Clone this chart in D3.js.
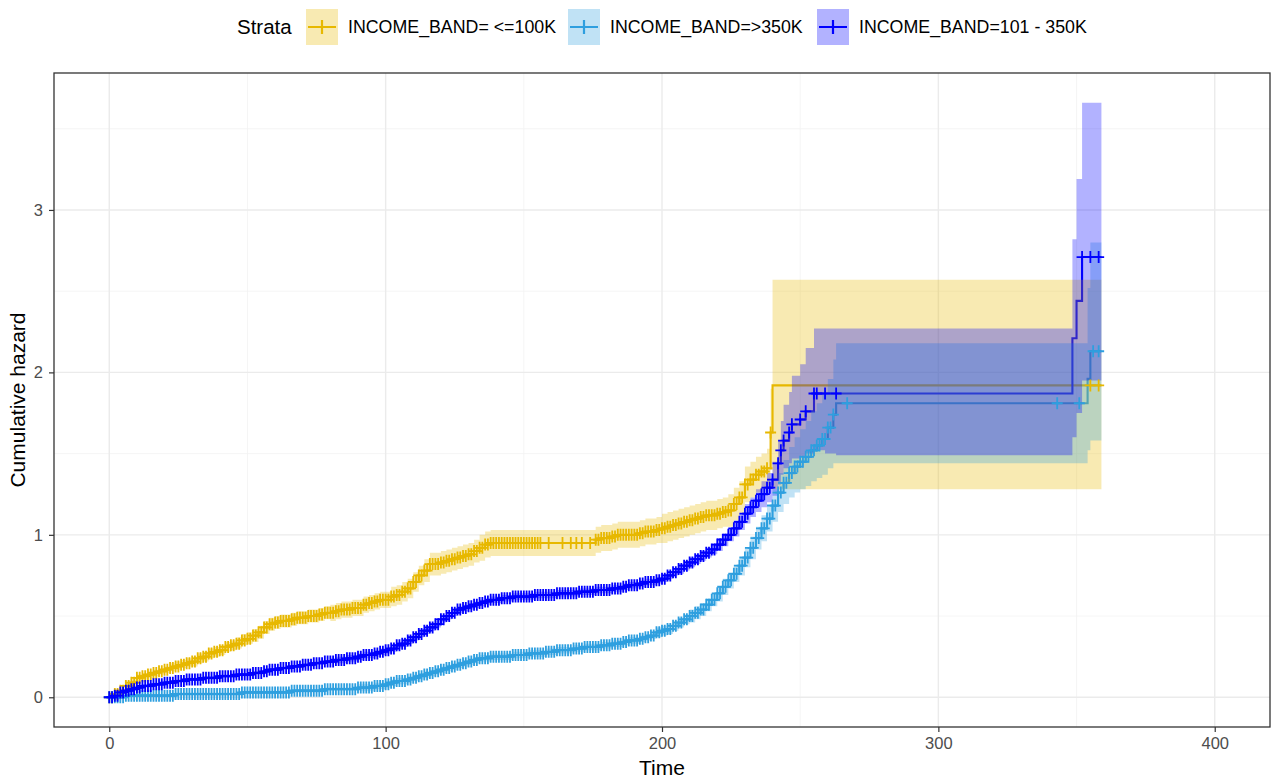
<!DOCTYPE html>
<html>
<head>
<meta charset="utf-8">
<script src="https://cdn.jsdelivr.net/npm/d3@7"></script>
<style>
  body { margin: 0; background: #ffffff; }
  text { font-family: "Liberation Sans", Arial, sans-serif; }
</style>
</head>
<body>
<svg id="chart" width="1271" height="780"></svg>
<script>
// Strata, colours and axis ticks
const strataLabels = ["INCOME_BAND= <=100K", "INCOME_BAND=>350K", "INCOME_BAND=101 - 350K"];
const strataColors = ["#E7B800", "#2E9FDF", "#0000FF"];
const xTicks = [0, 100, 200, 300, 400];
const yTicks = [0, 1, 2, 3];
const xMinor = [50, 150, 250, 350];
const yMinor = [0.5, 1.5, 2.5, 3.5];

// INCOME_BAND <=100K : step times, cumulative hazard, confidence limits
const lowTime = [0,2,4,6,8,10,12,14,16,18,20,22,24,26,28,30,32,34,36,38,40,42,44,46,48,50,52,54,56,58,60,62,64,66,68,70,72,74,76,78,80,82,84,86,88,90,92,94,96,98,100,102,104,106,108,110,112,114,116,118,120,122,124,126,128,130,132,134,136,138,140,142,144,146,148,150,152,154,156,159,164,167,169,171,174,176,178,180,182,184,186,188,190,192,194,196,198,200,202,204,206,208,210,212,214,216,218,220,222,224,226,228,230,232,234,236,238,239.3,240,355,358,359];
const lowHazard = [0,.02,.04,.07,.09,.12,.13,.14,.15,.16, .17,.18,.19,.20,.21,.22,.24,.25,.27,.28, .29,.31,.32,.33,.35,.36,.38,.40,.43,.45, .46,.47,.47,.48,.49,.49,.50,.50,.51,.52, .52,.53,.54,.54,.55,.55,.57,.58,.59,.60, .60,.62,.63,.65,.67,.71,.75,.78,.82,.82, .83,.84,.85,.86,.87,.88,.90,.92,.94,.95,
  .95,.95,.95,.95,.95,.95,.95,.95,.95, .95,.95,.95,.95,.95,.95,
  .97,.98,.98,.99,1.00,1.00,1.00,1.00,1.01,1.02, 1.02,1.03,1.04,1.05,1.06,1.07,1.08,1.09,1.10,1.11, 1.12,1.12,1.13,1.14,1.15,1.19,1.23,1.31,1.34,1.37, 1.39,1.41,
  1.63,1.92,1.92,1.92,1.92];
const lowLower = [0,.01,.03,.05,.07,.10,.11,.12,.13,.14, .15,.16,.17,.18,.19,.19,.21,.22,.24,.25, .26,.28,.29,.30,.32,.33,.34,.36,.39,.41, .42,.43,.43,.44,.45,.45,.46,.46,.47,.48, .47,.48,.49,.49,.50,.50,.52,.53,.54,.55, .55,.56,.57,.59,.61,.65,.69,.71,.75,.75, .76,.77,.78,.79,.80,.81,.83,.84,.86,.87,
  .87,.87,.87,.87,.87,.87,.87,.87,.87, .87,.87,.87,.87,.87,.87,
  .89,.90,.90,.91,.92,.92,.92,.92,.93,.94, .94,.95,.95,.96,.97,.98,.99,1.00,1.01,1.02, 1.03,1.03,1.04,1.05,1.05,1.09,1.13,1.20,1.23,1.26, 1.28,1.29,
  1.40,1.28,1.28,1.28,1.28];
const lowUpper = [0,.03,.05,.09,.11,.14,.15,.16,.17,.18, .19,.21,.22,.23,.24,.25,.27,.28,.30,.31, .32,.34,.35,.37,.39,.40,.42,.44,.47,.49, .50,.51,.51,.52,.53,.53,.54,.54,.55,.56, .57,.58,.59,.59,.60,.60,.62,.63,.64,.65, .65,.68,.69,.71,.73,.77,.81,.85,.89,.89, .90,.91,.92,.93,.94,.95,.97,1.00,1.02,1.03,
  1.03,1.03,1.03,1.03,1.03,1.03,1.03,1.03,1.03, 1.03,1.03,1.03,1.03,1.03,1.03,
  1.05,1.06,1.06,1.07,1.08,1.08,1.08,1.08,1.09,1.10, 1.10,1.11,1.13,1.14,1.15,1.16,1.17,1.18,1.19,1.20, 1.21,1.21,1.22,1.23,1.25,1.29,1.33,1.42,1.45,1.48, 1.50,1.53,
  1.90,2.57,2.57,2.57,2.57];
const lowUncensored = [240, 359];
// further censoring days between the event times
const lowCensorDays = [1,3,5,7,9,11,13,15,17,19,21,23,25,27,29,31,33,35,37,39,41,43,45,47,49,51,53,55,57,59,61,63,65,67,69,71,73,75,77,79,81,83,85,87,89,91,93,95,97,99,101,103,105,107,109,111,113,115,117,119,121,123,125,127,129,131,133,135,137,139,141,143,145,147,149,151,153,155,177,179,181,183,185,187,189,191,193,195,197,199,201,203,205,207,209,211,213,215,217,219,221,223,225,227,229,231,233,235,237];

// INCOME_BAND >350K
const highTime = [0,2,4,6,8,10,12,14,16,18,20,22,24,26,28,30,32,34,36,38,40,42,44,46,48,50,52,54,56,58,60,62,64,66,68,70,72,74,76,78,80,82,84,86,88,90,92,94,96,98,100,102,104,106,108,110,112,114,116,118,120,122,124,126,128,130,132,134,136,138,140,142,144,146,148,150,152,154,156,158,160,162,164,166,168,170,172,174,176,178,180,182,184,186,188,190,192,194,196,198,200,202,204,206,208,210,212,214,216,218,220,222,224,226,228,230,232,234,236,238,240,242,244,246,248,250,252,254,256,258,260,262,263,267,343,351,354,355,356,358,359];
const highHazard = [0,0,0,.01,.01,.01,.01,.01,.01,.01, .01,.01,.02,.02,.02,.02,.02,.02,.02,.02, .02,.02,.02,.02,.03,.03,.03,.03,.03,.03, .03,.03,.03,.04,.04,.04,.04,.04,.04,.05, .05,.05,.05,.05,.05,.06,.06,.06,.07,.07, .08,.09,.10,.10,.11,.12,.13,.14,.15,.16, .17,.18,.19,.20,.21,.22,.23,.24,.24,.25, .25,.25,.25,.26,.26,.26,.27,.27,.27,.28, .28,.29,.29,.29,.30,.30,.31,.31,.31,.32, .32,.33,.33,.34,.35,.35,.36,.37,.38,.40, .41,.42,.44,.46,.48,.50,.52,.54,.57,.60, .64,.68,.72,.76,.81,.86,.92,.98,1.04,1.10, 1.18,1.26,1.32,1.38,1.42,1.45,1.48,1.52,1.55,1.59, 1.66,1.74,
  1.81,1.81,1.81,1.81,1.96,2.13,2.13,2.13,2.13];
const highLower = [0,0,0,0,0,0,0,0,0,0, 0,0,.01,.01,.01,.01,.01,.01,.01,.01, .01,.01,.01,.01,.02,.02,.02,.02,.02,.02, .02,.02,.02,.03,.03,.03,.03,.03,.03,.04, .04,.04,.04,.04,.04,.04,.04,.04,.05,.05, .06,.07,.08,.08,.09,.10,.11,.12,.13,.14, .15,.16,.17,.18,.19,.20,.21,.22,.22,.23, .23,.23,.23,.24,.24,.24,.25,.25,.25,.26, .26,.27,.27,.27,.28,.28,.29,.29,.29,.30, .30,.31,.31,.32,.33,.33,.34,.35,.36,.37, .38,.39,.41,.43,.45,.46,.48,.50,.53,.56, .59,.63,.67,.71,.75,.80,.85,.91,.96,1.02, 1.08,1.14,1.19,1.23,1.26,1.28,1.30,1.33,1.35,1.37, 1.41,1.44,
  1.44,1.44,1.44,1.44,1.52,1.58,1.58,1.58,1.58];
const highUpper = [0,.01,.01,.02,.02,.02,.02,.02,.02,.02, .02,.02,.03,.03,.03,.03,.03,.03,.03,.03, .03,.03,.03,.03,.04,.04,.04,.04,.04,.04, .04,.04,.04,.05,.05,.05,.05,.05,.05,.06, .06,.06,.06,.06,.06,.08,.08,.08,.09,.09, .10,.11,.12,.12,.13,.14,.15,.16,.17,.18, .19,.20,.21,.22,.23,.24,.25,.26,.26,.27, .27,.27,.27,.28,.28,.28,.29,.29,.29,.30, .30,.31,.31,.31,.32,.32,.33,.33,.33,.34, .34,.35,.35,.36,.37,.37,.38,.39,.40,.43, .44,.45,.47,.49,.51,.54,.56,.58,.61,.64, .69,.73,.77,.81,.87,.92,.99,1.05,1.12,1.19, 1.28,1.38,1.46,1.54,1.60,1.65,1.70,1.76,1.81,1.87, 1.96,2.08,
  2.18,2.18,2.18,2.18,2.52,2.80,2.80,2.80,2.80];
const highUncensored = [263, 354, 355, 359];
const highCensorDays = [1,3,5,7,9,11,13,15,17,19,21,23,25,27,29,31,33,35,37,39,41,43,45,47,49,51,53,55,57,59,61,63,65,67,69,71,73,75,77,79,81,83,85,87,89,91,93,95,97,99,101,103,105,107,109,111,113,115,117,119,121,123,125,127,129,131,133,135,137,139,141,143,145,147,149,151,153,155,157,159,161,163,165,167,169,171,173,175,177,179,181,183,185,187,189,191,193,195,197,199,201,203,205,207,209,211,213,215,217,219,221,223,225,227,229,231,233,235,237,239,241,243,245,247,249,251,253,255,257,259,261];

// INCOME_BAND 101 - 350K
const midTime = [0,2,4,6,8,10,12,14,16,18,20,22,24,26,28,30,32,34,36,38,40,42,44,46,48,50,52,54,56,58,60,62,64,66,68,70,72,74,76,78,80,82,84,86,88,90,92,94,96,98,100,102,104,106,108,110,112,114,116,118,120,122,124,126,128,130,132,134,136,138,140,142,144,146,148,150,152,154,156,158,160,162,164,166,168,170,172,174,176,178,180,182,184,186,188,190,192,194,196,198,200,202,204,206,208,210,212,214,216,218,220,222,224,226,228,230,232,234,236,238,240,242,243,244,246,247,250,252,255,256,259,263,348.5,350,352,355,358,359];
const midHazard = [0,.01,.03,.04,.05,.06,.07,.07,.08,.08, .09,.09,.10,.10,.11,.11,.11,.12,.12,.12, .13,.13,.13,.14,.14,.14,.15,.15,.16,.17, .17,.18,.18,.19,.19,.20,.20,.21,.21,.22, .22,.23,.23,.24,.24,.25,.26,.26,.27,.28, .29,.30,.32,.33,.35,.37,.39,.41,.43,.45, .48,.50,.52,.54,.55,.56,.57,.58,.59,.60, .60,.61,.61,.62,.62,.62,.62,.63,.63,.63, .63,.64,.64,.64,.64,.65,.65,.65,.66,.66, .66,.67,.67,.68,.69,.69,.70,.71,.71,.72, .73,.75,.77,.79,.81,.83,.85,.87,.89,.91, .94,.97,1.00,1.04,1.08,1.13,1.17,1.21,1.25,1.29, 1.34,
  1.44,1.52,1.58,1.63,1.68,1.71,1.76,1.87,1.87,1.87,1.87,2.21,2.44,2.71,2.71,2.71,2.71];
const midLower = [0,0,.02,.03,.04,.05,.06,.06,.07,.07, .08,.08,.09,.09,.10,.10,.10,.11,.11,.11, .12,.12,.12,.13,.13,.13,.14,.14,.15,.16, .16,.17,.17,.18,.18,.19,.19,.20,.20,.21, .21,.21,.21,.22,.22,.23,.24,.24,.25,.26, .27,.28,.30,.31,.33,.35,.37,.39,.41,.43, .46,.48,.50,.52,.53,.54,.55,.56,.57,.58, .58,.59,.59,.60,.60,.60,.60,.61,.61,.61, .61,.62,.62,.62,.62,.63,.63,.63,.64,.64, .64,.65,.65,.66,.67,.67,.68,.69,.69,.70, .71,.73,.75,.76,.78,.80,.82,.84,.86,.88, .90,.93,.96,.99,1.03,1.07,1.11,1.14,1.17,1.20, 1.24,
  1.31,1.37,1.41,1.44,1.47,1.48,1.50,1.52,1.52,1.50,1.49,1.60,1.75,1.95,1.95,1.95,1.95];
const midUpper = [0,.02,.04,.05,.06,.07,.08,.08,.09,.09, .10,.10,.11,.11,.12,.12,.12,.13,.13,.13, .14,.14,.14,.15,.15,.15,.16,.16,.17,.18, .18,.19,.19,.20,.20,.21,.21,.22,.22,.23, .24,.25,.25,.26,.26,.27,.28,.28,.29,.30, .31,.32,.34,.35,.37,.39,.41,.43,.45,.47, .50,.52,.54,.56,.57,.58,.59,.60,.61,.62, .62,.63,.63,.64,.64,.64,.64,.65,.65,.65, .65,.66,.66,.66,.66,.67,.67,.67,.68,.68, .68,.69,.69,.70,.71,.71,.72,.73,.73,.74, .75,.77,.79,.82,.84,.86,.88,.90,.92,.94, .98,1.01,1.04,1.09,1.13,1.19,1.23,1.28,1.33,1.38, 1.45,
  1.58,1.70,1.80,1.88,1.98,2.05,2.15,2.27,2.27,2.27,2.27,2.82,3.19,3.66,3.66,3.66,3.66];
const midUncensored = [348.5, 350, 359];
const midCensorDays = [1,3,5,7,9,11,13,15,17,19,21,23,25,27,29,31,33,35,37,39,41,43,45,47,49,51,53,55,57,59,61,63,65,67,69,71,73,75,77,79,81,83,85,87,89,91,93,95,97,99,101,103,105,107,109,111,113,115,117,119,121,123,125,127,129,131,133,135,137,139,141,143,145,147,149,151,153,155,157,159,161,163,165,167,169,171,173,175,177,179,181,183,185,187,189,191,193,195,197,199,201,203,205,207,209,211,213,215,217,219,221,223,225,227,229,231,233,235,237,239];

// ---- assemble strata ----
function build(time, haz, lo, hi, noMark, extraDays) {
  const rows = time.map((t, i) => ({ t, h: haz[i], lo: lo[i], hi: hi[i] }));
  const bis = d3.bisector(d => d.t).right;
  // censor marks sit on the step curve at their own times
  const marks = rows.filter(d => !noMark.includes(d.t)).map(d => ({ t: d.t, h: d.h }))
    .concat(extraDays.map(t => ({ t, h: rows[bis(rows, t) - 1].h })));
  return { rows, marks };
}
const series = [
  build(lowTime, lowHazard, lowLower, lowUpper, lowUncensored, lowCensorDays),
  build(highTime, highHazard, highLower, highUpper, highUncensored, highCensorDays),
  build(midTime, midHazard, midLower, midUpper, midUncensored, midCensorDays)
];

const W = 1271, H = 780;
const panel = { left: 54, right: 1270, top: 73, bottom: 727 };
const svg = d3.select("#chart");

const x = d3.scaleLinear().domain([-20, 420]).range([panel.left, panel.right]);
const y = d3.scaleLinear().domain([-0.183, 3.843]).range([panel.bottom, panel.top]);

svg.append("rect").attr("width", W).attr("height", H).attr("fill", "#ffffff");

// grid
const grid = svg.append("g");
grid.selectAll(".xm").data(xMinor).join("line")
  .attr("x1", d => x(d)).attr("x2", d => x(d)).attr("y1", panel.top).attr("y2", panel.bottom)
  .attr("stroke", "#F2F2F2").attr("stroke-width", 0.8);
grid.selectAll(".ym").data(yMinor).join("line")
  .attr("y1", d => y(d)).attr("y2", d => y(d)).attr("x1", panel.left).attr("x2", panel.right)
  .attr("stroke", "#F2F2F2").attr("stroke-width", 0.8);
grid.selectAll(".xg").data(xTicks).join("line")
  .attr("x1", d => x(d)).attr("x2", d => x(d)).attr("y1", panel.top).attr("y2", panel.bottom)
  .attr("stroke", "#EBEBEB").attr("stroke-width", 1.4);
grid.selectAll(".yg").data(yTicks).join("line")
  .attr("y1", d => y(d)).attr("y2", d => y(d)).attr("x1", panel.left).attr("x2", panel.right)
  .attr("stroke", "#EBEBEB").attr("stroke-width", 1.4);

svg.append("clipPath").attr("id", "clip").append("rect")
  .attr("x", panel.left).attr("y", panel.top)
  .attr("width", panel.right - panel.left).attr("height", panel.bottom - panel.top);
const plot = svg.append("g").attr("clip-path", "url(#clip)");

const line = d3.line().curve(d3.curveStepAfter).x(d => x(d.t)).y(d => y(d.h));
const band = d3.area().curve(d3.curveStepAfter).x(d => x(d.t)).y0(d => y(d.lo)).y1(d => y(d.hi));

// step curves
series.forEach((s, i) => {
  plot.append("path").datum(s.rows).attr("d", line)
    .attr("fill", "none").attr("stroke", strataColors[i]).attr("stroke-width", 2.1);
});
// confidence bands
series.forEach((s, i) => {
  plot.append("path").datum(s.rows).attr("d", band)
    .attr("fill", strataColors[i]).attr("fill-opacity", 0.3).attr("stroke", "none");
});
// censoring marks
const plus = "M-5.5,0H5.5M0,-6V6";
series.forEach((s, i) => {
  plot.append("g").selectAll("path").data(s.marks).join("path")
    .attr("transform", d => `translate(${x(d.t)},${y(d.h)})`)
    .attr("d", plus).attr("stroke", strataColors[i]).attr("stroke-width", 1.8).attr("fill", "none");
});

// panel border
svg.append("rect").attr("x", panel.left).attr("y", panel.top)
  .attr("width", panel.right - panel.left).attr("height", panel.bottom - panel.top)
  .attr("fill", "none").attr("stroke", "#333333").attr("stroke-width", 1.3);

// axes
const xAxis = svg.append("g").attr("transform", `translate(0,${panel.bottom})`)
  .call(d3.axisBottom(x).tickValues(xTicks).tickSize(5).tickPadding(5).tickFormat(d3.format("d")));
const yAxis = svg.append("g").attr("transform", `translate(${panel.left},0)`)
  .call(d3.axisLeft(y).tickValues(yTicks).tickSize(5).tickPadding(6).tickFormat(d3.format("d")));
[xAxis, yAxis].forEach(a => {
  a.attr("font-size", 16.5).attr("font-family", "Liberation Sans, Arial, sans-serif");
  a.select(".domain").remove();
  a.selectAll(".tick line").attr("stroke", "#333333").attr("stroke-width", 1.2);
  a.selectAll(".tick text").attr("fill", "#4D4D4D").style("font-size", "16.5px");
});

// axis titles
svg.append("text").attr("x", (panel.left + panel.right) / 2).attr("y", 775)
  .attr("text-anchor", "middle").attr("font-size", 21).attr("fill", "#000").text("Time");
svg.append("text").attr("transform", `translate(25,${(panel.top + panel.bottom) / 2}) rotate(-90)`)
  .attr("text-anchor", "middle").attr("font-size", 21).attr("fill", "#000").text("Cumulative hazard");

// legend
const legend = svg.append("g");
legend.append("text").attr("x", 237).attr("y", 27).attr("dy", "0.35em")
  .attr("font-size", 20.5).attr("fill", "#000").text("Strata");
const keyX = [306, 568, 817];
strataLabels.forEach((lab, i) => {
  const g = legend.append("g").attr("transform", `translate(${keyX[i]},9)`);
  g.append("rect").attr("width", 32).attr("height", 36)
    .attr("fill", strataColors[i]).attr("fill-opacity", 0.3);
  g.append("path").attr("d", "M2,18H30M16,11V25").attr("stroke", strataColors[i]).attr("stroke-width", 2.2);
  g.append("text").attr("x", 42).attr("y", 18).attr("dy", "0.35em")
    .attr("font-size", 17.8).attr("fill", "#000").text(lab);
});
</script>
</body>
</html>
